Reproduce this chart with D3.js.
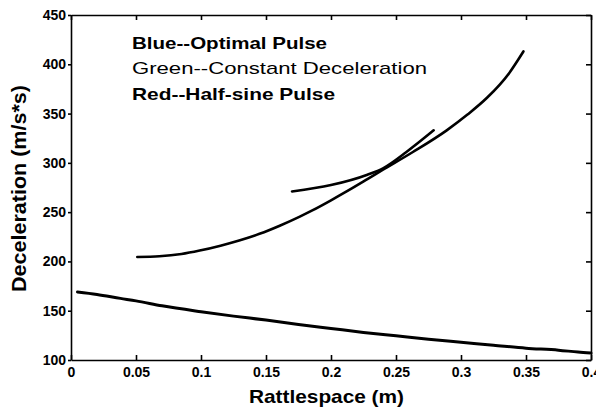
<!DOCTYPE html>
<html lang="en">
<head>
  <meta charset="utf-8">
  <script src="https://d3js.org/d3.v7.min.js"></script>
  <style>
    body { margin: 0; background: #fff; }
    text { font-family: "Liberation Sans", Arial, sans-serif; fill: #000; }
    .axis path, .axis line { stroke: #000; stroke-width: 1.6px; }
    .axis text { font-size: 14px; font-weight: bold; }
    .curve { fill: none; stroke: #000; stroke-linecap: round; stroke-linejoin: round; }
  </style>
</head>
<body>
<script>
  // values (all curves are black in the picture)
  var optimalX = [0.005, 0.02, 0.038, 0.05, 0.07, 0.1, 0.125, 0.15, 0.175, 0.2, 0.225, 0.25, 0.275, 0.3, 0.325, 0.35, 0.375, 0.39, 0.4];
  var optimalY = [169, 166.5, 162.5, 160, 155, 149, 144.5, 140.5, 136, 132, 128, 124.5, 121, 118, 115, 112, 110, 108, 107];

  var constantX = [0.17, 0.2, 0.228, 0.24, 0.258, 0.279];
  var constantY = [271, 277.5, 288, 294.5, 311, 333];

  var halfSineX = [0.051, 0.068, 0.085, 0.099, 0.115, 0.13, 0.145, 0.161, 0.176, 0.186, 0.2, 0.212, 0.228, 0.24, 0.263, 0.289, 0.305, 0.32, 0.337, 0.348];
  var halfSineY = [204.5, 205.2, 207.5, 211, 216, 221.5, 228, 236.5, 245.5, 252, 262, 271, 283.5, 293, 311, 333, 349, 366, 391, 413];

  var xTicks = [0, 0.05, 0.1, 0.15, 0.2, 0.25, 0.3, 0.35, 0.4];
  var xTickLabels = ["0", "0.05", "0.1", "0.15", "0.2", "0.25", "0.3", "0.35", "0.4"];
  var yTicks = [100, 150, 200, 250, 300, 350, 400, 450];

  var legendLabels = ["Blue--Optimal Pulse", "Green--Constant Deceleration", "Red--Half-sine Pulse"];

  var width = 596, height = 412;
  var plotLeft = 71, plotRight = 591, plotTop = 15, plotBottom = 360;

  var svg = d3.select("body").append("svg")
    .attr("width", width)
    .attr("height", height);

  var x = d3.scaleLinear().domain([0, 0.4]).range([plotLeft, plotRight]);
  var y = d3.scaleLinear().domain([100, 450]).range([plotBottom, plotTop]);

  // axes, ticks pointing in except the left one
  svg.append("g").attr("class", "axis")
    .attr("transform", "translate(0," + plotBottom + ")")
    .call(d3.axisBottom(x).tickValues(xTicks)
      .tickFormat(function(d, i) { return xTickLabels[i]; })
      .tickSizeInner(-5).tickSizeOuter(0).tickPadding(7));

  svg.append("g").attr("class", "axis")
    .attr("transform", "translate(0," + plotTop + ")")
    .call(d3.axisTop(x).tickValues(xTicks).tickFormat("")
      .tickSizeInner(-5).tickSizeOuter(0));

  svg.append("g").attr("class", "axis")
    .attr("transform", "translate(" + plotLeft + ",0)")
    .call(d3.axisLeft(y).tickValues(yTicks).tickFormat(d3.format("d"))
      .tickSizeInner(3).tickSizeOuter(0).tickPadding(2));

  svg.append("g").attr("class", "axis")
    .attr("transform", "translate(" + plotRight + ",0)")
    .call(d3.axisRight(y).tickValues(yTicks).tickFormat("")
      .tickSizeInner(-5).tickSizeOuter(0));

  var line = d3.line()
    .x(function(d) { return x(d[0]); })
    .y(function(d) { return y(d[1]); })
    .curve(d3.curveMonotoneX);

  svg.append("path").attr("class", "curve")
    .attr("stroke-width", 3)
    .attr("d", line(d3.zip(optimalX, optimalY)));

  svg.append("path").attr("class", "curve")
    .attr("stroke-width", 2.6)
    .attr("d", line(d3.zip(constantX, constantY)));

  svg.append("path").attr("class", "curve")
    .attr("stroke-width", 2.6)
    .attr("d", line(d3.zip(halfSineX, halfSineY)));

  // legend text (the scan is stretched sideways, so fix the widths)
  var legendBase = [49, 74, 100];
  var legendWidth = [195, 295, 203];
  var legendWeight = ["bold", "normal", "bold"];
  svg.selectAll(".legend")
    .data(legendLabels)
    .enter().append("text")
    .attr("class", "legend")
    .attr("x", 132)
    .attr("y", function(d, i) { return legendBase[i]; })
    .attr("font-size", 17)
    .attr("font-weight", function(d, i) { return legendWeight[i]; })
    .attr("textLength", function(d, i) { return legendWidth[i]; })
    .attr("lengthAdjust", "spacingAndGlyphs")
    .text(function(d) { return d; });

  svg.append("text")
    .attr("x", 249).attr("y", 403)
    .attr("font-size", 19).attr("font-weight", "bold")
    .attr("textLength", 155).attr("lengthAdjust", "spacingAndGlyphs")
    .text("Rattlespace (m)");

  svg.append("text")
    .attr("transform", "translate(26,292) rotate(-90)")
    .attr("font-size", 21).attr("font-weight", "bold")
    .attr("textLength", 207).attr("lengthAdjust", "spacingAndGlyphs")
    .text("Deceleration (m/s*s)");
</script>
</body>
</html>
